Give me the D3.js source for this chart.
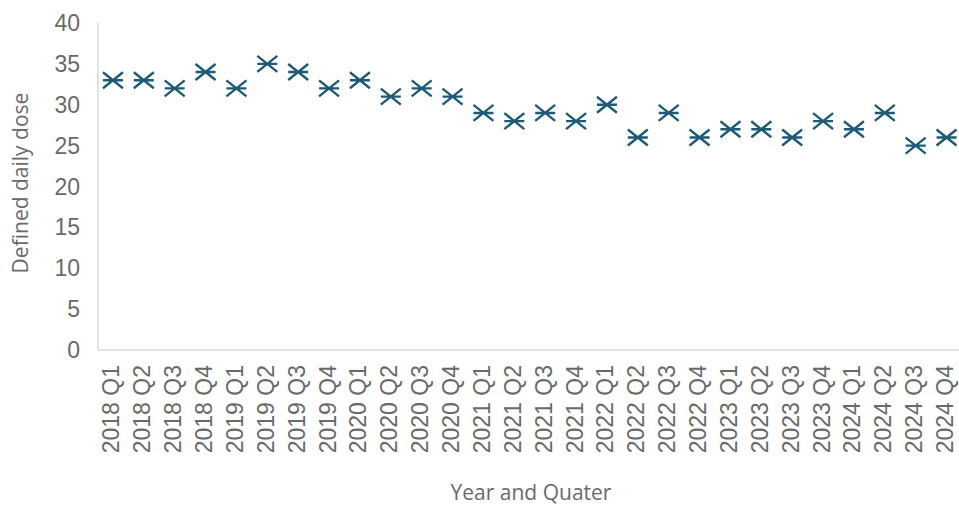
<!DOCTYPE html>
<html><head><meta charset="utf-8">
<script src="https://cdn.jsdelivr.net/npm/d3@7"></script>
<style>body{margin:0;background:#fff}</style>
</head><body>
<script>
const categories = ["2018 Q1","2018 Q2","2018 Q3","2018 Q4","2019 Q1","2019 Q2","2019 Q3","2019 Q4","2020 Q1","2020 Q2","2020 Q3","2020 Q4","2021 Q1","2021 Q2","2021 Q3","2021 Q4","2022 Q1","2022 Q2","2022 Q3","2022 Q4","2023 Q1","2023 Q2","2023 Q3","2023 Q4","2024 Q1","2024 Q2","2024 Q3","2024 Q4"];
const values = [33,33,32,34,32,35,34,32,33,31,32,31,29,28,29,28,30,26,29,26,27,27,26,28,27,29,25,26];
const yTicks = [0,5,10,15,20,25,30,35,40];

const W = 959, H = 506;
const svg = d3.select("body").append("svg").attr("width", W).attr("height", H);
const x = d3.scaleBand().domain(categories).range([97.5, 962]);
const y = d3.scaleLinear().domain([0, 40]).range([350, 23]);
const grey = "#6a6a6a", axisCol = "#d9d9d9", mk = "#1d5a75";
const font = "'Liberation Sans', Arial, sans-serif";

// axis lines
svg.append("line").attr("x1", 98).attr("x2", 98).attr("y1", y(40)).attr("y2", y(0)).attr("stroke", axisCol).attr("stroke-width", 1.5);
svg.append("line").attr("x1", 98).attr("x2", W).attr("y1", y(0)).attr("y2", y(0)).attr("stroke", axisCol).attr("stroke-width", 1.5);

// y ticks
svg.append("g").selectAll("text").data(yTicks).join("text")
  .attr("x", 80).attr("y", d => y(d)).attr("dy", "0.35em")
  .attr("text-anchor", "end").attr("font-family", font).attr("font-size", 23)
  .attr("fill", grey).text(d => d);

// x ticks
svg.append("g").selectAll("text").data(categories).join("text")
  .attr("transform", d => `translate(${x(d) + x.bandwidth()/2 + 6.5},365) rotate(-90)`)
  .attr("text-anchor", "end").attr("font-family", font).attr("font-size", 23)
  .attr("fill", grey).text(d => d);

// markers
const s = 10, hy = 8;
const g = svg.append("g").attr("stroke", mk).attr("stroke-width", 2.4).attr("fill", "none");
categories.forEach((c, i) => {
  const cx = x(c) + x.bandwidth()/2, cy = y(values[i]);
  g.append("path").attr("d", `M${cx-s},${cy-hy}L${cx+s},${cy+hy}M${cx-s},${cy+hy}L${cx+s},${cy-hy}M${cx-s},${cy}L${cx+s},${cy}`);
});

// axis titles
svg.append("text").attr("transform", "translate(28,183) rotate(-90)").attr("text-anchor", "middle")
  .attr("font-family", "'Open Sans', sans-serif").attr("font-size", 21).attr("fill", grey).text("Defined daily dose");
svg.append("text").attr("x", 531).attr("y", 500).attr("text-anchor", "middle")
  .attr("font-family", "'Open Sans', sans-serif").attr("font-size", 21).attr("fill", grey).text("Year and Quater");
</script>
</body></html>
